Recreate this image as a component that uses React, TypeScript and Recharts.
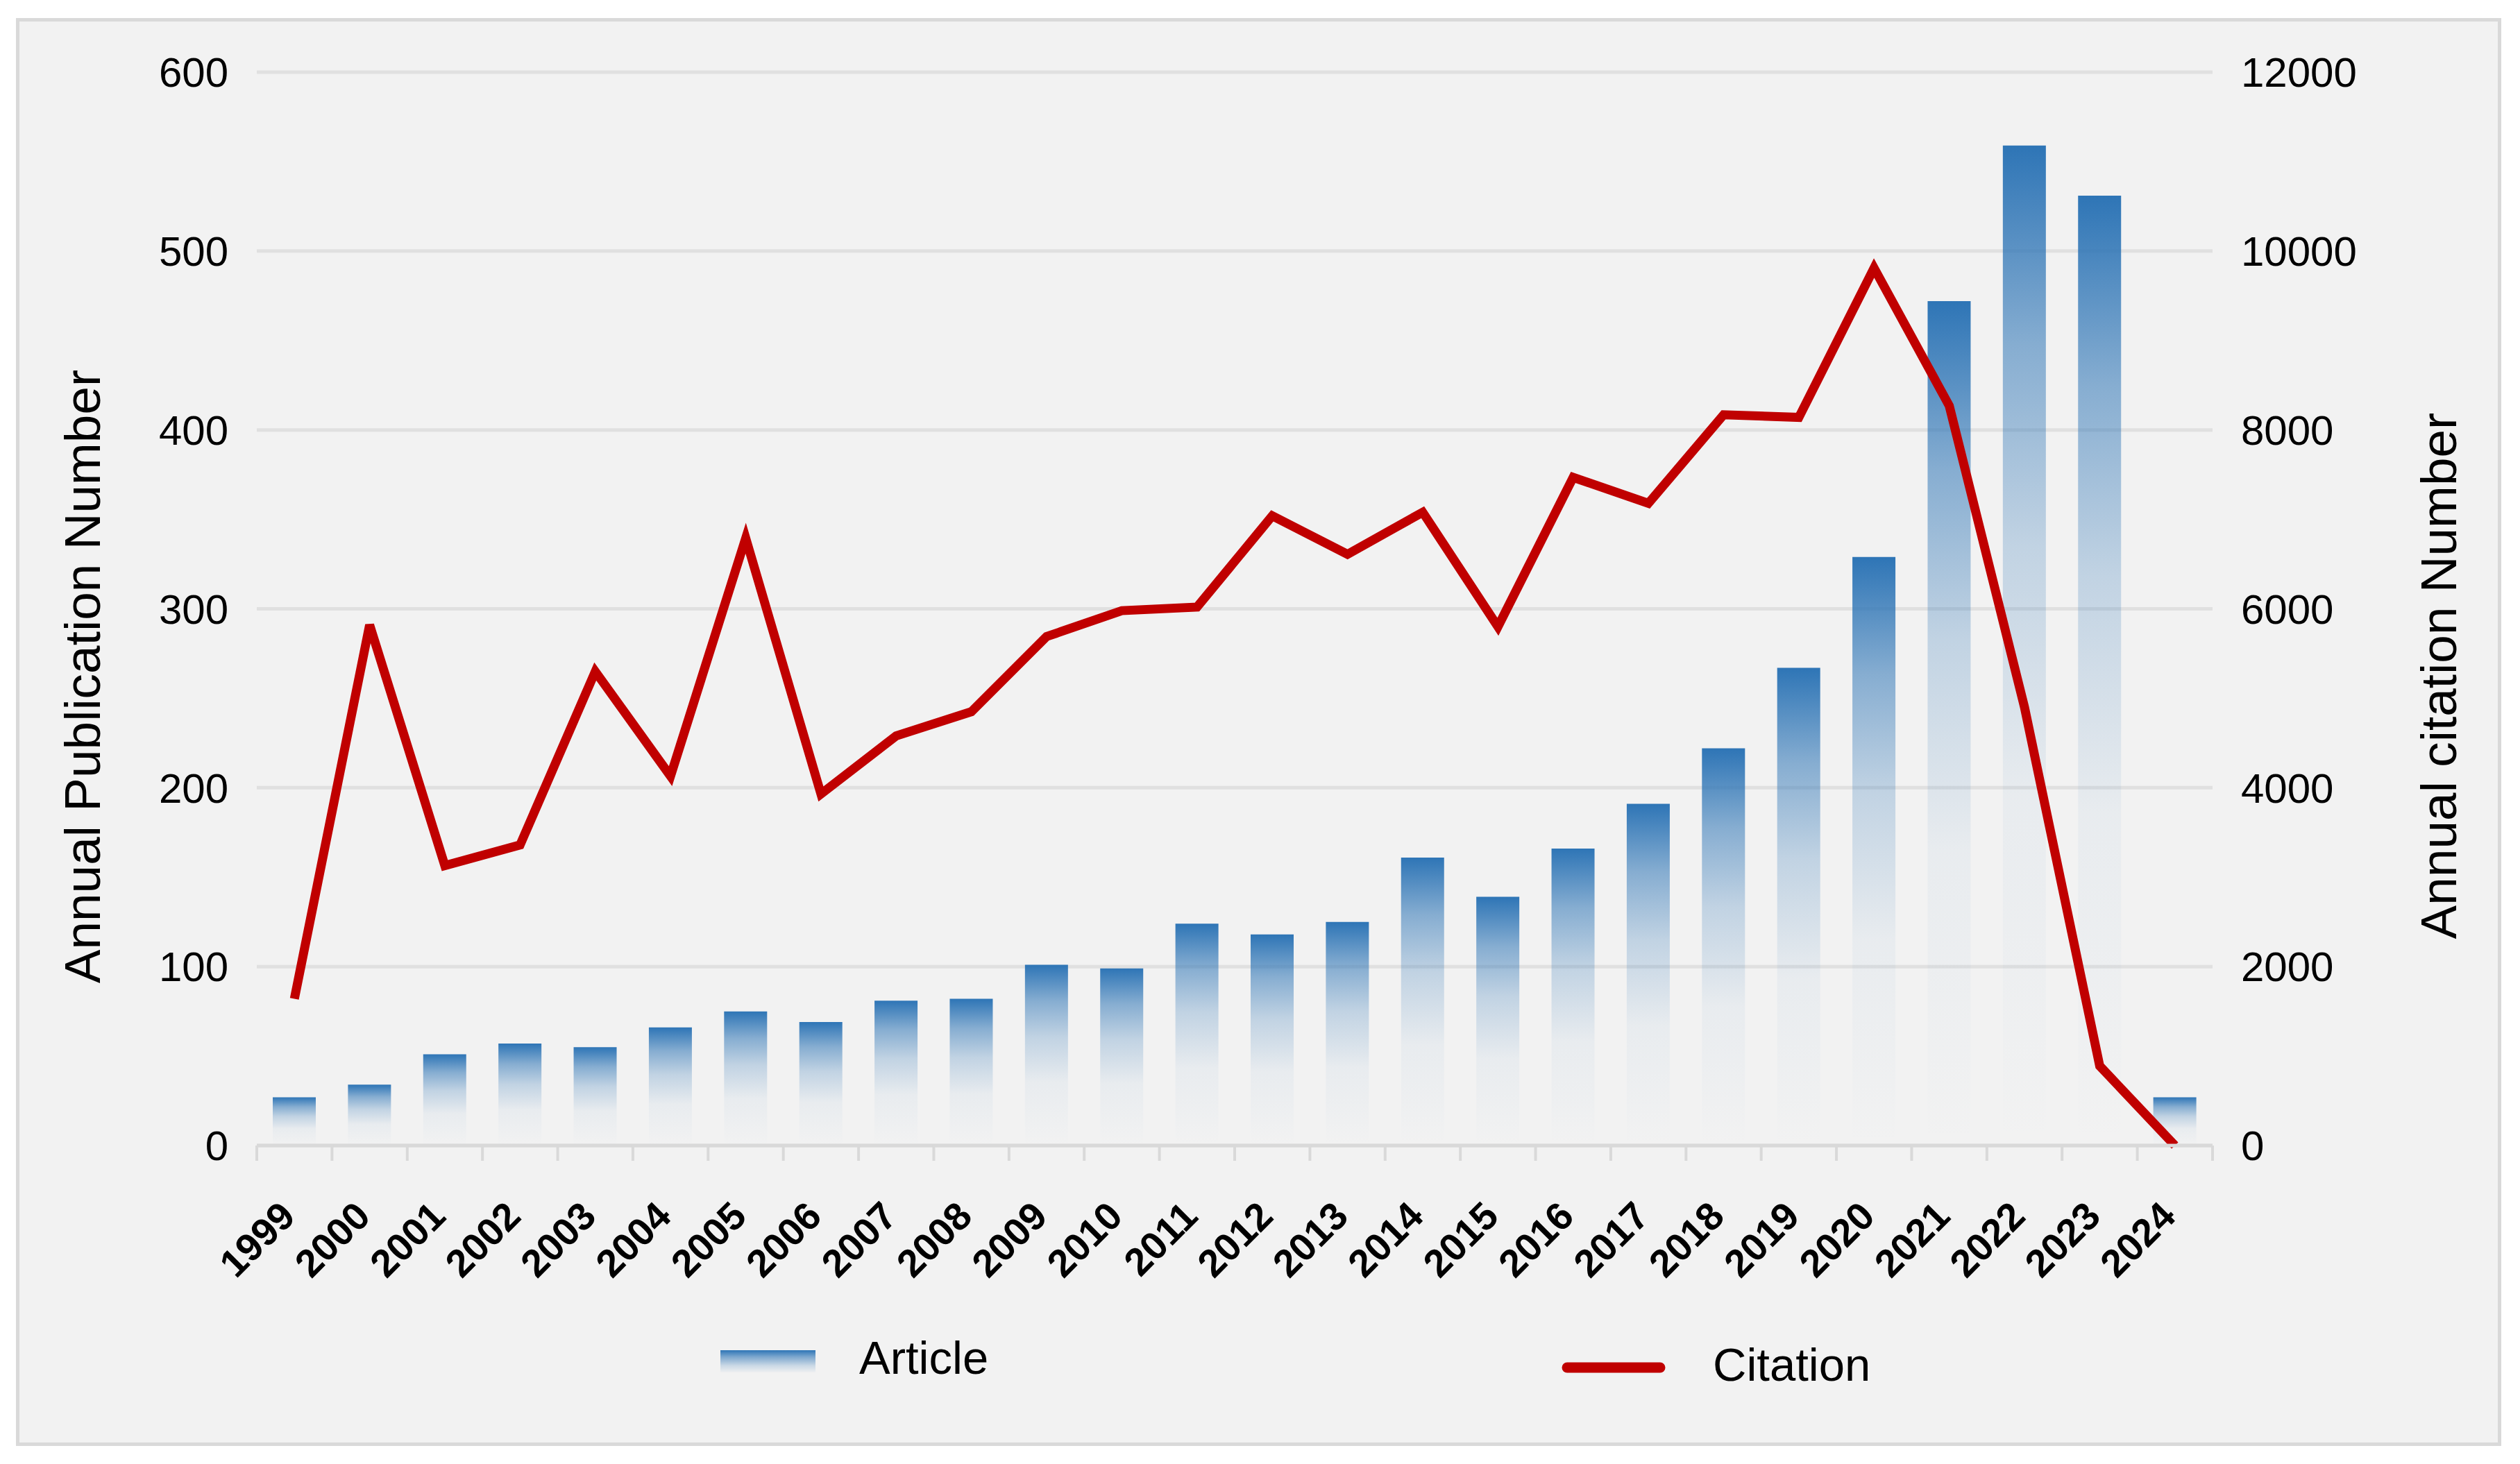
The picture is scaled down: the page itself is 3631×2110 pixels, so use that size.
import React from 'react';
import { ComposedChart, Bar, Line, XAxis, YAxis, CartesianGrid, Legend } from 'recharts';

const years = ['1999', '2000', '2001', '2002', '2003', '2004', '2005', '2006', '2007', '2008', '2009', '2010', '2011', '2012', '2013', '2014', '2015', '2016', '2017', '2018', '2019', '2020', '2021', '2022', '2023', '2024'];
const articles = [27, 34, 51, 57, 55, 66, 75, 69, 81, 82, 101, 99, 124, 118, 125, 161, 139, 166, 191, 222, 267, 329, 472, 559, 531, 27];
const citations = [1640, 5820, 3130, 3360, 5300, 4130, 6790, 3930, 4580, 4850, 5690, 5980, 6020, 7040, 6610, 7080, 5800, 7470, 7180, 8170, 8140, 9810, 8270, 4900, 890, 0];
const leftTicks = [0, 100, 200, 300, 400, 500, 600];
const rightTicks = [0, 2000, 4000, 6000, 8000, 10000, 12000];

const data = years.map((year, i) => ({ idx: i, year, article: articles[i], citation: citations[i] }));
const boundaryTicks = [...years.map((_, i) => i - 0.5), years.length - 0.5];

const W = 3631;
const H = 2110;
const LEFT_W = 370;
const RIGHT_W = 443;
const PLOT_W = W - LEFT_W - RIGHT_W;
const HALF_BAND = PLOT_W / years.length / 2;
const FONT = '"Liberation Sans", Arial, Helvetica, sans-serif';

const XTick = (props: any) => {
  const { x, y, payload } = props;
  const i = Math.round(payload.value + 0.5);
  if (i < 0 || i >= years.length) return null;
  return (
    <g transform={`translate(${x + HALF_BAND + 4},${y + 83})`}>
      <text textAnchor="end" transform="rotate(-45)" fontSize={56} fontWeight="bold" fill="#000" fontFamily={FONT}>
        {years[i]}
      </text>
    </g>
  );
};

const LeftTitle = () => (
  <text x={144} y={975} transform="rotate(-90, 144, 975)" textAnchor="middle" fontSize={73} fill="#000" fontFamily={FONT}>
    Annual Publication Number
  </text>
);

const RightTitle = () => (
  <text x={3539} y={974} transform="rotate(-90, 3539, 974)" textAnchor="middle" fontSize={73} fill="#000" fontFamily={FONT}>
    Annual citation Number
  </text>
);

const LEG_TOP = 1880;
const renderLegend = () => (
  <svg width={W} height={140} style={{ display: 'block' }}>
    <defs>
      <linearGradient id="legGrad" x1="0" y1="0" x2="0" y2="1">
        <stop offset="0%" stopColor="#2E75B6" stopOpacity={1} />
        <stop offset="30%" stopColor="#2E75B6" stopOpacity={0.6} />
        <stop offset="70%" stopColor="#2E75B6" stopOpacity={0.2} />
        <stop offset="100%" stopColor="#2E75B6" stopOpacity={0.02} />
      </linearGradient>
    </defs>
    <rect x={1038} y={1946 - LEG_TOP} width={137} height={32} fill="url(#legGrad)" />
    <text x={1238} y={1980 - LEG_TOP} fontSize={67} fill="#000" fontFamily={FONT}>Article</text>
    <line x1={2258} x2={2392} y1={1971 - LEG_TOP} y2={1971 - LEG_TOP} stroke="#C00000" strokeWidth={15} strokeLinecap="round" />
    <text x={2468} y={1990 - LEG_TOP} fontSize={67} fill="#000" fontFamily={FONT}>Citation</text>
  </svg>
);

export default function App() {
  return (
    <div style={{ position: 'absolute', left: 0, top: 0, width: W, height: H, background: '#ffffff' }}>
      <div
        style={{
          position: 'absolute',
          left: 23,
          top: 26,
          width: 3581,
          height: 2058,
          boxSizing: 'border-box',
          border: '5px solid #d9d9d9',
          background: '#f2f2f2',
        }}
      />
      <div style={{ position: 'absolute', left: 0, top: 0 }}>
        <ComposedChart width={W} height={H} data={data} margin={{ top: 104, right: 0, bottom: 259, left: 0 }}>
          <defs>
            <linearGradient id="barGrad" x1="0" y1="0" x2="0" y2="1">
              <stop offset="0%" stopColor="#2E75B6" stopOpacity={1} />
              <stop offset="20%" stopColor="#2E75B6" stopOpacity={0.55} />
              <stop offset="40%" stopColor="#2E75B6" stopOpacity={0.25} />
              <stop offset="65%" stopColor="#2E75B6" stopOpacity={0.05} />
              <stop offset="100%" stopColor="#2E75B6" stopOpacity={0} />
            </linearGradient>
          </defs>
          <CartesianGrid yAxisId="left" vertical={false} stroke="#e0e0e0" strokeWidth={5} />
          <XAxis
            dataKey="idx"
            type="number"
            domain={[-0.5, years.length - 0.5]}
            ticks={boundaryTicks}
            interval={0}
            allowDecimals
            height={200}
            tickSize={22}
            tickMargin={0}
            axisLine={{ stroke: '#d9d9d9', strokeWidth: 5 }}
            tickLine={{ stroke: '#d9d9d9', strokeWidth: 4 }}
            tick={<XTick />}
          />
          <YAxis
            yAxisId="left"
            orientation="left"
            width={LEFT_W}
            domain={[0, 600]}
            ticks={leftTicks}
            interval={0}
            axisLine={false}
            tickLine={false}
            tickSize={0}
            tickMargin={41}
            tick={{ fill: '#000', fontSize: 60, fontFamily: FONT }}
            label={LeftTitle}
          />
          <YAxis
            yAxisId="right"
            orientation="right"
            width={RIGHT_W}
            domain={[0, 12000]}
            ticks={rightTicks}
            interval={0}
            axisLine={false}
            tickLine={false}
            tickSize={0}
            tickMargin={41}
            tick={{ fill: '#000', fontSize: 60, fontFamily: FONT }}
            label={RightTitle}
          />
          <Legend
            verticalAlign="middle"
            align="center"
            layout="horizontal"
            wrapperStyle={{ left: 0, top: LEG_TOP, width: W, height: 140 }}
            content={renderLegend}
          />
          <Bar yAxisId="left" dataKey="article" name="Article" barSize={62} fill="url(#barGrad)" isAnimationActive={false} />
          <Line
            yAxisId="right"
            dataKey="citation"
            name="Citation"
            type="linear"
            stroke="#C00000"
            strokeWidth={13}
            dot={false}
            activeDot={false}
            isAnimationActive={false}
          />
        </ComposedChart>
      </div>
    </div>
  );
}
